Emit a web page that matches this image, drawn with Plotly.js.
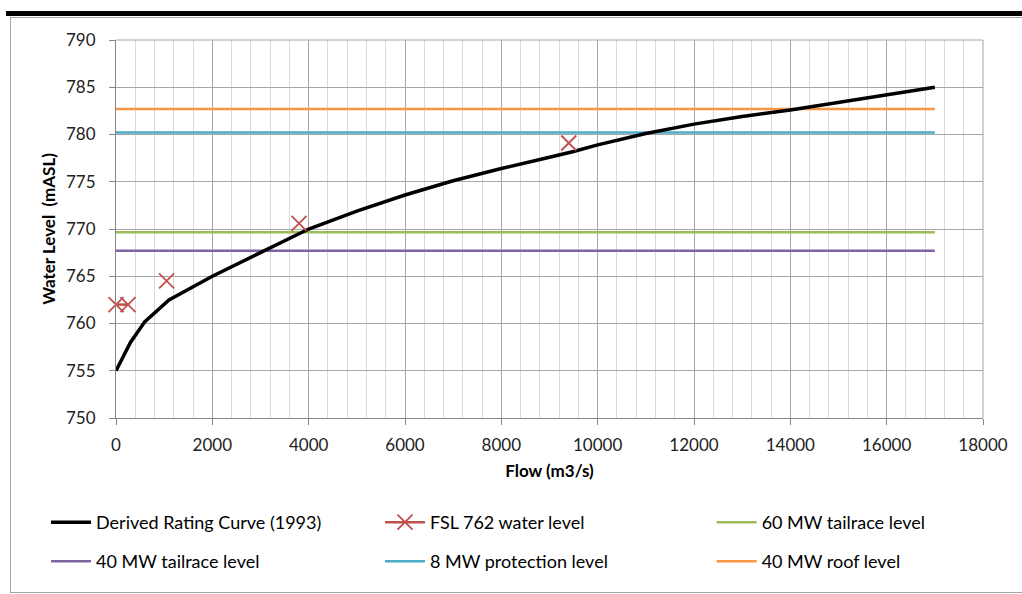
<!DOCTYPE html>
<html>
<head>
<meta charset="utf-8">
<script src="https://cdn.plot.ly/plotly-3.0.1.min.js"></script>
<style>
  html, body { margin: 0; padding: 0; background: #ffffff; }
  #wrap { position: relative; width: 1022px; height: 594px; overflow: hidden; }
  #topbar { position: absolute; left: 6px; top: 11px; width: 1016px; height: 5px; background: #000; }
  #frame { position: absolute; left: 10px; top: 17px; width: 1030px; height: 574px; border: 1.5px solid #a6a6a6; }
  #chart { position: absolute; left: 0; top: 0; width: 1022px; height: 594px; }
</style>
</head>
<body>
<div id="wrap">
  <div id="topbar"></div>
  <div id="frame"></div>
  <div id="chart"></div>
</div>
<script>
// Derived rating curve (1993)
const curveFlow  = [0, 300, 600, 1100, 2000, 3000, 4000, 5000, 6000, 7000, 8000, 9000, 9500, 10000, 11000, 12000, 13000, 14000, 15000, 16000, 17000];
const curveLevel = [755, 758, 760.2, 762.5, 765, 767.5, 770, 771.9, 773.6, 775.1, 776.4, 777.6, 778.2, 778.9, 780.1, 781.1, 781.9, 782.6, 783.4, 784.2, 785.0];

// FSL 762 water level observations (null = break in line)
const fslFlow  = [0, 250, null, 1050, null, 3800, null, 9400];
const fslLevel = [762, 762, null, 764.5, null, 770.6, null, 779.1];

// Horizontal reference levels
const levelFlow = [0, 17000];
const levelNames  = ["60 MW tailrace level", "40 MW tailrace level", "8 MW protection level", "40 MW roof level"];
const levelValues = [769.65, 767.7, 780.2, 782.7];
const levelColors = ["#9BBB59", "#8064A2", "#4BACC6", "#F79646"];

const FONT = "Lato, 'Open Sans', sans-serif";

const traces = [
  {
    x: curveFlow, y: curveLevel, type: "scatter", mode: "lines",
    name: "Derived Rating Curve (1993)",
    line: { color: "#000000", width: 3.5 },
    legend: "legend", cliponaxis: false
  },
  {
    x: fslFlow, y: fslLevel, type: "scatter", mode: "lines+markers",
    name: "FSL 762 water level",
    line: { color: "#C0504D", width: 2.5 },
    marker: { symbol: "x-thin", size: 15, line: { color: "#C0504D", width: 1.8 }, color: "#C0504D" },
    connectgaps: false,
    legend: "legend2", cliponaxis: false
  }
];
const levelLegend = ["legend3", "legend4", "legend5", "legend6"];
for (let i = 0; i < levelNames.length; i++) {
  traces.push({
    x: levelFlow, y: [levelValues[i], levelValues[i]], type: "scatter", mode: "lines",
    name: levelNames[i],
    line: { color: levelColors[i], width: 2.5 },
    legend: levelLegend[i]
  });
}
// draw curve on top of level lines
const ordered = [traces[2], traces[3], traces[4], traces[5], traces[0], traces[1]];

const legendCommon = {
  orientation: "v", xanchor: "left", yanchor: "top",
  font: { family: FONT, size: 18, color: "#000" },
  itemwidth: 40, bgcolor: "rgba(0,0,0,0)"
};
const colX = [-0.0807, 0.3045, 0.687];
const rowY = [-0.2275, -0.331];

const layout = {
  width: 1022, height: 594,
  margin: { l: 116, r: 39, t: 40, b: 176, autoexpand: false },
  paper_bgcolor: "rgba(0,0,0,0)",
  plot_bgcolor: "rgba(0,0,0,0)",
  font: { family: FONT, color: "#000" },
  xaxis: {
    range: [0, 18000], dtick: 2000, tick0: 0, tickformat: "d",
    showgrid: true, gridcolor: "#A6A6A6", gridwidth: 1,
    minor: { dtick: 400, showgrid: true, gridcolor: "#D9D9D9", gridwidth: 1 },
    showline: true, linecolor: "#868686", linewidth: 1,
    ticks: "outside", ticklen: 6, tickcolor: "#868686",
    tickfont: { family: FONT, size: 17, color: "#222" },
    ticklabelstandoff: 6,
    zeroline: false,
    title: { text: "<b>Flow (m3/s)</b>", font: { family: FONT, size: 17, color: "#000" }, standoff: 10 }
  },
  yaxis: {
    range: [750, 790], dtick: 5, tick0: 750,
    showgrid: true, gridcolor: "#A6A6A6", gridwidth: 1,
    showline: true, linecolor: "#868686", linewidth: 1,
    ticks: "outside", ticklen: 6, tickcolor: "#868686",
    tickfont: { family: FONT, size: 17, color: "#222" },
    ticklabelstandoff: 10,
    zeroline: false,
    title: { text: "<b>Water Level  (mASL)</b>", font: { family: FONT, size: 17, color: "#000" }, standoff: 6 }
  },
  shapes: [
    { type: "line", xref: "paper", yref: "paper", x0: 0, x1: 1, y0: 1, y1: 1, line: { color: "#A6A6A6", width: 1 } },
    { type: "line", xref: "paper", yref: "paper", x0: 1, x1: 1, y0: 0, y1: 1, line: { color: "#A6A6A6", width: 1 } }
  ],
  showlegend: true,
  legend:  Object.assign({}, legendCommon, { x: colX[0], y: rowY[0] }),
  legend2: Object.assign({}, legendCommon, { x: colX[1], y: rowY[0] }),
  legend3: Object.assign({}, legendCommon, { x: colX[2], y: rowY[0] }),
  legend4: Object.assign({}, legendCommon, { x: colX[0], y: rowY[1] }),
  legend5: Object.assign({}, legendCommon, { x: colX[1], y: rowY[1] }),
  legend6: Object.assign({}, legendCommon, { x: colX[2], y: rowY[1] })
};

Plotly.newPlot("chart", ordered, layout, { staticPlot: true, displayModeBar: false });
</script>
</body>
</html>
